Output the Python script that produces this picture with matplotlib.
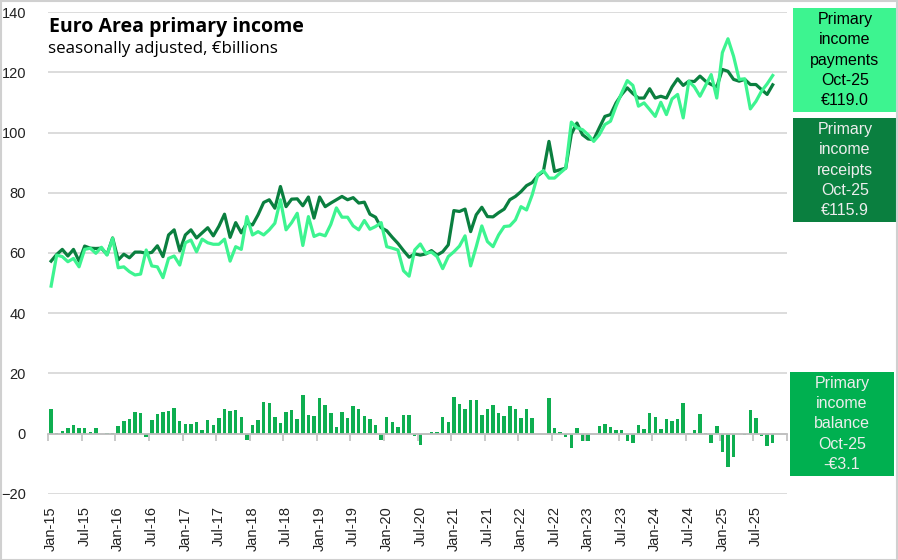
import matplotlib.pyplot as plt
from matplotlib.patches import Rectangle
import pandas as pd

# monthly, Jan-15 .. Oct-25, EUR billions
receipts = [57.3, 59.5, 61.2, 59.0, 61.2, 57.3, 62.3, 61.6, 61.5, 61.6, 59.5, 65.0,
            57.7, 59.6, 58.4, 60.3, 60.3, 59.9, 60.2, 62.4, 58.8, 66.0, 67.7, 60.7,
            66.0, 67.7, 65.0, 66.7, 68.4, 65.7, 68.9, 72.9, 65.2, 70.1, 66.7, 70.0,
            69.3, 72.7, 76.8, 77.7, 74.9, 82.1, 75.4, 77.9, 78.0, 75.7, 78.6, 71.6,
            78.6, 75.4, 76.6, 77.7, 78.8, 77.7, 78.4, 76.6, 76.9, 72.9, 71.9, 68.4,
            67.4, 65.2, 63.2, 60.8, 58.6, 59.7, 59.3, 59.7, 60.8, 59.3, 60.4, 62.7,
            74.1, 73.8, 74.6, 67.1, 72.7, 75.2, 72.1, 72.0, 73.4, 74.6, 77.7, 78.8,
            80.4, 82.4, 83.4, 85.7, 87.1, 97.1, 87.1, 87.7, 88.2, 99.5, 103.2, 99.3,
            97.9, 97.7, 101.6, 105.4, 106.0, 109.9, 112.7, 114.9, 113.0, 111.5, 111.5, 114.6,
            111.5, 112.1, 111.5, 115.2, 117.9, 115.7, 117.1, 117.0, 118.8, 117.1, 116.0, 115.2,
            121.0, 120.4, 117.7, 117.1, 117.7, 116.0, 116.0, 114.3, 112.7, 115.9]

payments = [49.0, 59.3, 58.8, 57.1, 58.2, 55.4, 61.2, 61.6, 59.9, 61.9, 59.3, 64.9,
            55.1, 55.4, 53.8, 52.7, 53.0, 61.0, 55.7, 55.4, 51.8, 58.2, 59.0, 56.0,
            63.4, 64.3, 60.4, 64.6, 63.4, 62.9, 62.9, 64.6, 57.3, 62.1, 61.2, 72.1,
            66.0, 67.1, 66.0, 67.7, 69.9, 77.7, 67.7, 70.1, 73.2, 62.5, 72.1, 65.5,
            66.3, 65.7, 69.5, 75.0, 71.9, 71.9, 69.0, 67.7, 70.8, 67.9, 68.8, 70.1,
            62.1, 61.6, 61.0, 54.1, 52.3, 61.0, 63.0, 59.9, 60.3, 58.8, 54.8, 58.8,
            60.4, 62.3, 65.7, 55.7, 62.1, 69.0, 63.8, 62.1, 66.0, 68.8, 69.0, 71.0,
            75.4, 74.3, 79.3, 86.0, 87.4, 84.9, 84.9, 86.6, 88.2, 103.5, 101.6, 101.0,
            99.3, 97.1, 99.3, 102.7, 103.8, 108.8, 113.2, 117.3, 115.7, 108.8, 109.9, 107.7,
            105.4, 110.1, 106.0, 111.2, 112.7, 104.9, 117.1, 115.2, 112.1, 115.7, 119.3, 111.5,
            126.6, 131.2, 125.4, 117.7, 117.9, 107.9, 110.4, 113.8, 116.2, 119.0]

balance = [8.1, 0.2, 0.9, 1.7, 2.8, 2.0, 1.8, 0.6, 1.8, -0.3, 0.1, 0.1,
           2.4, 4.1, 4.8, 7.1, 6.9, -1.1, 4.4, 6.4, 7.1, 7.4, 8.4, 4.1,
           3.1, 3.3, 3.8, 1.1, 4.4, 2.8, 5.3, 8.1, 7.6, 7.8, 5.6, -2.0,
           2.8, 4.4, 10.6, 10.2, 5.6, 3.6, 7.0, 7.8, 4.8, 12.8, 6.3, 5.9,
           11.9, 9.4, 6.9, 2.2, 7.1, 5.2, 9.1, 8.1, 5.8, 4.7, 2.7, -2.0,
           5.4, 3.8, 2.2, 6.1, 6.1, -0.9, -3.7, 0.0, 0.5, 0.5, 5.6, 3.9,
           12.2, 9.8, 8.3, 11.1, 11.1, 6.1, 8.0, 9.4, 6.9, 5.8, 9.1, 8.1,
           5.0, 8.1, 5.2, 0.0, -0.3, 11.7, 1.7, 0.5, -1.1, -4.8, 1.7, -2.4,
           -2.4, 0.0, 2.4, 3.1, 2.2, 1.1, 1.1, -2.4, -3.3, 2.8, 1.4, 6.9,
           5.6, 1.4, 4.8, 4.2, 4.8, 10.2, 0.3, 1.1, 6.4, 0.3, -3.3, 2.4,
           -6.1, -11.1, -7.8, -0.3, -0.5, 7.8, 5.3, -0.7, -4.1, -3.1]

months = pd.date_range("2015-01-01", periods=len(receipts), freq="MS")
n_slots = 132  # axis runs to Dec-25
tick_pos = list(range(0, n_slots, 6))
tick_labels = [d.strftime("%b-%y") for d in pd.date_range("2015-01-01", periods=n_slots, freq="MS")][::6]

box_texts = ["Primary\nincome\npayments\nOct-25\n€119.0",
             "Primary\nincome\nreceipts\nOct-25\n€115.9",
             "Primary\nincome\nbalance\nOct-25\n-€3.1"]

c_rec = "#0A7F3F"
c_pay = "#3DF490"
c_bal = "#0EAE50"
grid_c = "#D9D9D9"

W, H = 898, 560
fig = plt.figure(figsize=(W / 100, H / 100), dpi=100)
plt.rcParams['font.family'] = ['Liberation Sans', 'DejaVu Sans']

ax = fig.add_axes([48.3 / W, 1 - 493.7 / H, (786.7 - 48.3) / W, (493.7 - 12.3) / H])
x = list(range(len(receipts)))

ax.bar(x, balance, width=0.62, color=c_bal, zorder=2)
ax.plot(x, receipts, color=c_rec, lw=2.3, zorder=3, solid_joinstyle='round')
ax.plot(x, payments, color=c_pay, lw=2.3, zorder=4, solid_joinstyle='round')

ax.set_xlim(-0.5, n_slots - 0.5)
ax.set_ylim(-20, 140)
ax.set_yticks(range(-20, 141, 20))
ax.grid(axis='y', color=grid_c, lw=1.3, zorder=0)
ax.tick_params(axis='y', length=0, pad=16, labelsize=10.5, labelcolor='#222222')
for s in ['top', 'right', 'left']:
    ax.spines[s].set_visible(False)
ax.spines['bottom'].set_position(('data', 0))
ax.spines['bottom'].set_color('#BFBFBF')
ax.spines['bottom'].set_linewidth(1.3)
ax.set_xticks([p - 0.5 for p in tick_pos] + [n_slots - 0.5])
ax.tick_params(axis='x', length=5, width=1.2, color='#BFBFBF', labelbottom=False)

sec = ax.secondary_xaxis(-0.0)
sec.set_xticks(tick_pos)
sec.set_xticklabels(tick_labels, rotation=90, fontsize=10.5, color='#222222')
sec.tick_params(length=0, pad=9)
sec.spines['bottom'].set_visible(False)

# title
fig.text(49 / W, 1 - 17 / H, "Euro Area primary income", fontsize=14, fontweight='bold',
         family=['Open Sans', 'DejaVu Sans'], va='top', ha='left')
fig.text(48 / W, 1 - 41 / H, "seasonally adjusted, €billions", fontsize=12.2,
         family=['Open Sans', 'DejaVu Sans'], va='top', ha='left')

# side boxes
boxes = [(793, 8, 104, 104, c_pay, 'black'),
         (793, 118, 104, 104, c_rec, '#EDEDED'),
         (790, 372, 104, 104, "#00B050", '#EDEDED')]
for (bx, by, bw, bh, fc, tc), txt in zip(boxes, box_texts):
    fig.patches.append(Rectangle((bx / W, 1 - (by + bh) / H), bw / W, bh / H,
                                 transform=fig.transFigure, facecolor=fc, edgecolor='none'))
    fig.text((bx + bw / 2) / W, 1 - (by + bh / 2) / H, txt, ha='center', va='center',
             fontsize=11.5, color=tc, linespacing=1.45)

# outer frame
fig.patches.append(Rectangle((0.5 / W, 0.5 / H), 1 - 1.5 / W, 1 - 1.5 / H, transform=fig.transFigure,
                             facecolor='none', edgecolor='#D0D0D0', lw=1.5))

fig.savefig("out.png", dpi=100)
